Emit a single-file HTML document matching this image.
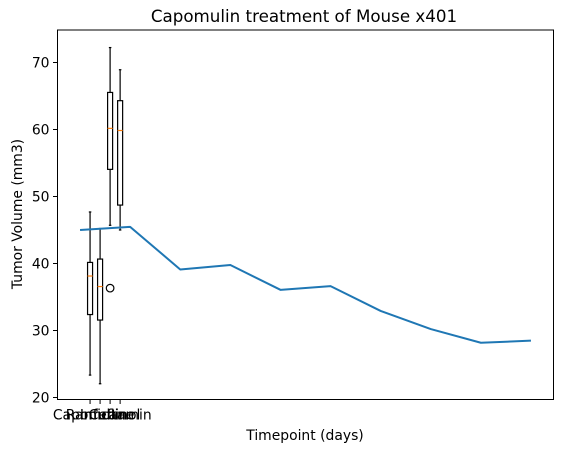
<!DOCTYPE html>
<html><head><meta charset="utf-8"><style>
html,body{margin:0;padding:0;background:#fff;}
svg{display:block;font-family:"DejaVu Sans","Liberation Sans",sans-serif;}
</style></head><body>
<svg id="chart" width="563" height="453" viewBox="0 0 563 453">
<rect x="0" y="0" width="563" height="453" fill="#fff"/>
<g id="plot"></g>
<text x="304" y="22" font-size="16.7" text-anchor="middle">Capomulin treatment of Mouse x401</text>
<text x="305" y="440" font-size="13.9" text-anchor="middle">Timepoint (days)</text>
<text transform="translate(22,214) rotate(-90)" font-size="13.9" text-anchor="middle">Tumor Volume (mm3)</text>
</svg>
<script>
const timepoints=[0,5,10,15,20,25,30,35,40,45];
const volumes=[45,45.47,39.11,39.78,36.07,36.62,32.92,30.21,28.17,28.48];
const drugs=["Capomulin","Ramicane","Infubinol","Ceftamin"];
const boxLow=[23.34,22.05,45.7,45.0];
const boxQ1=[32.38,31.56,54.05,48.72];
const boxMed=[38.13,36.56,60.17,59.85];
const boxQ3=[40.16,40.66,65.53,64.30];
const boxHigh=[47.69,45.22,72.23,68.92];
const outlierDrug=[2];
const outlierVal=[36.32];
const yTicks=[20,30,40,50,60,70];

const L=57.5,R=553.5,T=30,B=399.5;
const xMin=-2.25,xMax=47.25,yMin=19.70,yMax=74.85;
const xs=v=>L+(v-xMin)/(xMax-xMin)*(R-L);
const ys=v=>B-(v-yMin)/(yMax-yMin)*(B-T);
const NS="http://www.w3.org/2000/svg";
const g=document.getElementById('plot');
function mk(tag,attrs,parent){const e=document.createElementNS(NS,tag);for(const k in attrs)e.setAttribute(k,attrs[k]);(parent||g).appendChild(e);return e;}

drugs.forEach((d,i)=>{
  const p=i+1,cx=xs(p),hw=(xs(p+0.25)-xs(p)),cw=hw/2;
  const grp=mk('g',{});
  
  
  mk('line',{x1:cx,x2:cx,y1:ys(boxHigh[i]),y2:ys(boxQ3[i]),stroke:'#000','stroke-width':1.2},grp);
  mk('line',{x1:cx,x2:cx,y1:ys(boxQ1[i]),y2:ys(boxLow[i]),stroke:'#000','stroke-width':1.2},grp);
  mk('line',{x1:cx-cw,x2:cx+cw,y1:ys(boxHigh[i]),y2:ys(boxHigh[i]),stroke:'#000','stroke-width':1.2},grp);
  mk('line',{x1:cx-cw,x2:cx+cw,y1:ys(boxLow[i]),y2:ys(boxLow[i]),stroke:'#000','stroke-width':1.2},grp);
  mk('rect',{x:cx-hw,y:ys(boxQ3[i]),width:2*hw,height:ys(boxQ1[i])-ys(boxQ3[i]),fill:'none',stroke:'#000','stroke-width':1.2},grp);
  mk('line',{x1:cx-hw,x2:cx+hw,y1:ys(boxMed[i]),y2:ys(boxMed[i]),stroke:'#ff7f0e','stroke-width':1.2},grp);
});
outlierDrug.forEach((di,k)=>{
  const c=mk('circle',{cx:xs(di+1),cy:ys(outlierVal[k]),r:3.8,fill:'none',stroke:'#000','stroke-width':1.2});
  
  
});
const pts=timepoints.map((t,i)=>xs(t)+','+ys(volumes[i])).join(' ');
const pl=mk('polyline',{points:pts,fill:'none',stroke:'#1f77b4','stroke-width':2,'stroke-linejoin':'round'});


const fr=mk('rect',{x:L,y:T,width:R-L,height:B-T,fill:'none',stroke:'#000','stroke-width':1});


yTicks.forEach(v=>{
  const y=ys(v);
  mk('line',{x1:L-4.5,x2:L,y1:y,y2:y,stroke:'#000','stroke-width':1});
  const t=mk('text',{x:L-8,y:y+5,'font-size':13.9,'text-anchor':'end'});
  t.textContent=v;
  
  
});
drugs.forEach((d,i)=>{
  const x=xs(i+1);
  mk('line',{x1:x,x2:x,y1:B,y2:B+4.5,stroke:'#000','stroke-width':1});
  const t=mk('text',{x:x,y:B+20,'font-size':13.9,'text-anchor':'middle'});
  t.textContent=d;
  
  
});
</script>
</body></html>
